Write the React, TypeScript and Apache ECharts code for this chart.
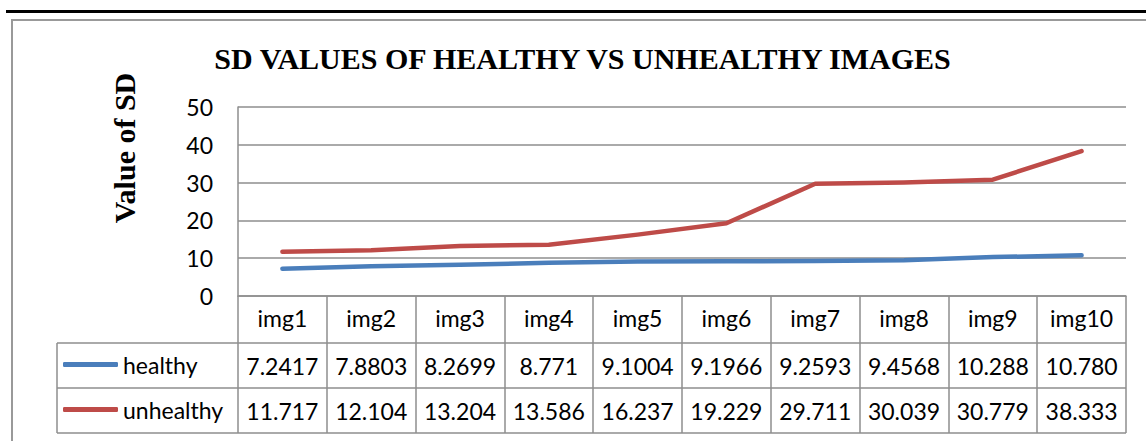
import React, { useEffect, useRef } from "react";
import * as echarts from "echarts";

const categories = ["img1", "img2", "img3", "img4", "img5", "img6", "img7", "img8", "img9", "img10"];
const healthyText = ["7.2417", "7.8803", "8.2699", "8.771", "9.1004", "9.1966", "9.2593", "9.4568", "10.288", "10.780"];
const unhealthyText = ["11.717", "12.104", "13.204", "13.586", "16.237", "19.229", "29.711", "30.039", "30.779", "38.333"];
const healthyValues = healthyText.map(Number);
const unhealthyValues = unhealthyText.map(Number);
const yTicks = { min: 0, max: 50, interval: 10 };

const GRAY = "#8e8e8e";
const FONT = "Lato";
const FS = 23;

export default function App() {
  const ref = useRef<HTMLDivElement>(null);
  useEffect(() => {
    if (!ref.current) return;
    const chart = echarts.init(ref.current, undefined, { renderer: "svg" });
    const gridLeft = 238;
    const gridRight = 1126;
    const gridTop = 107;
    const gridBottom = 296;
    const rowH = [47, 45, 45];
    const r1 = gridBottom + rowH[0];
    const r2 = r1 + rowH[1];
    const r3 = r2 + rowH[2];
    const tableLeft = 57;
    const lineStyle = { stroke: GRAY, lineWidth: 1.5 };
    const valueAxis = (data: string[], offset: number) => ({
      type: "category",
      data,
      position: "bottom",
      offset,
      boundaryGap: true,
      axisLine: { show: false },
      axisTick: { show: false },
      splitLine: { show: false },
      axisLabel: { interval: 0, margin: 11, fontSize: FS, fontFamily: FONT, color: "#000" },
    });
    chart.setOption({
      animation: false,
      backgroundColor: "#fff",
      grid: { left: gridLeft, right: 1146 - gridRight, top: gridTop, bottom: 441 - gridBottom, containLabel: false },
      legend: {
        orient: "vertical",
        left: 63,
        top: r1 + rowH[1] / 2 - 12.5,
        padding: 0,
        icon: "roundRect",
        itemWidth: 55,
        itemHeight: 5,
        itemGap: 22,
        textStyle: { fontSize: FS, lineHeight: 23, fontFamily: FONT, color: "#000" },
        data: ["healthy", "unhealthy"],
      },
      xAxis: [
        {
          type: "category",
          data: categories,
          boundaryGap: true,
          axisLine: { show: true, lineStyle: { color: GRAY, width: 1.5 } },
          axisTick: { show: true, interval: 0, length: r3 - gridBottom, lineStyle: { color: GRAY, width: 1.5 } },
          splitLine: { show: false },
          axisLabel: { interval: 0, margin: 10, fontSize: FS, fontFamily: FONT, color: "#000" },
        },
        valueAxis(healthyText, rowH[0]),
        valueAxis(unhealthyText, rowH[0] + rowH[1]),
      ],
      yAxis: {
        type: "value",
        min: yTicks.min,
        max: yTicks.max,
        interval: yTicks.interval,
        axisLine: { show: true, lineStyle: { color: GRAY, width: 1.5 } },
        axisTick: { show: false },
        splitLine: { show: true, lineStyle: { color: GRAY, width: 1.5 } },
        axisLabel: { margin: 25, fontSize: FS, fontFamily: FONT, color: "#000" },
      },
      series: [
        {
          name: "healthy",
          type: "line",
          data: healthyValues,
          symbol: "none",
          color: "#4a7ebb",
          lineStyle: { width: 4.5, color: "#4a7ebb", cap: "round", join: "round" },
        },
        {
          name: "unhealthy",
          type: "line",
          data: unhealthyValues,
          symbol: "none",
          color: "#be4b48",
          lineStyle: { width: 4.5, color: "#be4b48", cap: "round", join: "round" },
        },
      ],
      graphic: [
        { type: "line", shape: { x1: 6, y1: 11.5, x2: 1146, y2: 11.5 }, style: { stroke: "#000", lineWidth: 3 } },
        { type: "rect", shape: { x: 12, y: 20, width: 1200, height: 500 }, style: { fill: "none", stroke: "#999", lineWidth: 2 } },
        { type: "line", shape: { x1: tableLeft, y1: r1, x2: gridRight, y2: r1 }, style: lineStyle },
        { type: "line", shape: { x1: tableLeft, y1: r2, x2: gridRight, y2: r2 }, style: lineStyle },
        { type: "line", shape: { x1: tableLeft, y1: r3, x2: gridRight, y2: r3 }, style: lineStyle },
        { type: "line", shape: { x1: tableLeft, y1: r1, x2: tableLeft, y2: r3 }, style: lineStyle },
        {
          type: "text",
          x: 582.5,
          y: 58,
          style: {
            text: "SD VALUES OF HEALTHY VS UNHEALTHY IMAGES",
            fontFamily: "Liberation Serif",
            fontWeight: "bold",
            fontSize: 30,
            fill: "#000",
            align: "center",
            verticalAlign: "middle",
          },
        },
        {
          type: "text",
          x: 124,
          y: 148,
          rotation: Math.PI / 2,
          style: {
            text: "Value of SD",
            fontFamily: "Liberation Serif",
            fontWeight: "bold",
            fontSize: 30,
            fill: "#000",
            align: "center",
            verticalAlign: "middle",
          },
        },
      ],
    });
    return () => chart.dispose();
  }, []);
  return <div ref={ref} style={{ position: "fixed", left: 0, top: 0, width: 1146, height: 441 }} />;
}
